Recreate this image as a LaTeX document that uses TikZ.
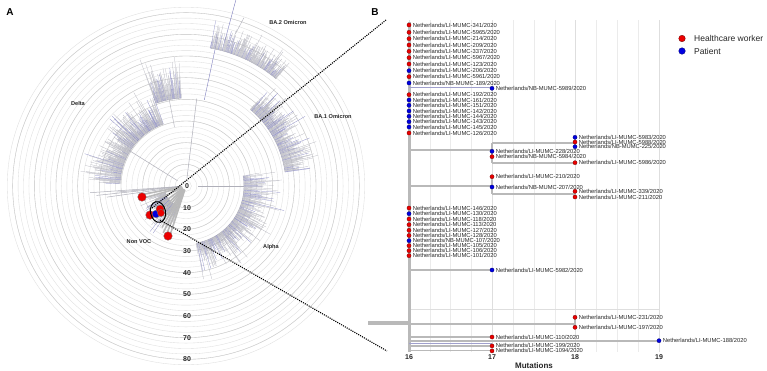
\documentclass[tikz,border=0pt]{standalone}
\usepackage{fontspec}
\setmainfont{Liberation Sans}
\definecolor{treegray}{RGB}{175,175,185}
\definecolor{treeblue}{RGB}{125,125,190}
\definecolor{ringc}{RGB}{222,222,222}
\definecolor{ringd}{RGB}{205,205,205}
\definecolor{brc}{RGB}{185,185,185}
\definecolor{brl}{RGB}{160,160,205}
\definecolor{gridc}{RGB}{235,235,235}
\definecolor{gridd}{RGB}{222,222,222}
\definecolor{hcw}{RGB}{235,0,0}
\definecolor{pat}{RGB}{0,0,225}
\tikzset{
  tipR/.style={circle, fill=hcw, draw=red!40!black, line width=0.25pt, inner sep=0pt, minimum size=4.2pt},
  tipB/.style={circle, fill=pat, draw=blue!40!black, line width=0.25pt, inner sep=0pt, minimum size=4.2pt},
  tiplab/.style={font=\fontsize{5.8}{6}\selectfont, anchor=west, inner sep=0.4pt, text=black!85},
  brline/.style={draw=brc, line width=1.8pt},
  dotA/.style={fill=hcw, draw=black!55, line width=0.3pt},
  dotAB/.style={fill=pat, draw=black!55, line width=0.3pt},
  ringlab/.style={font=\bfseries\fontsize{7}{8}\selectfont, inner sep=0.5pt, text=black!85},
  cladelab/.style={font=\bfseries\fontsize{5.6}{6}\selectfont, inner sep=0pt, text=black!85},
  panellab/.style={font=\bfseries\fontsize{10}{11}\selectfont, inner sep=0pt},
  ticklab/.style={font=\bfseries\fontsize{7}{8}\selectfont, inner sep=0pt, text=black!85},
  dotline/.style={line width=1.1pt, dash pattern=on 1.1pt off 1.1pt},
  legtext/.style={font=\fontsize{8.5}{9}\selectfont, anchor=west, inner sep=0pt, text=black!85}
}
\newcommand\treeclade[6]{%
  \draw[treegray, line width=0.4pt] (#1:#4) arc[start angle=#1, end angle=#2, radius=#4];
  \pgfmathsetmacro\stp{(#2-(#1))/#3}%
  \foreach \ii in {0,...,#3}{%
    \pgfmathsetmacro\ang{#1+\stp*\ii+0.4*\stp*(rnd-0.5)}%
    \pgfmathsetmacro\rr{#4+#5+(#6-#5)*rnd*(0.35+0.65*rnd)}%
    \pgfmathsetmacro\cl{rnd}%
    \ifdim\cl pt<0.22pt \def\tcol{treeblue}\else\def\tcol{treegray}\fi
    \draw[\tcol, line width=0.22pt] (\ang:#4) -- (\ang:\rr);
  }%
}
\newcommand\tipnode[5]{%
  \node[tip#4] (#1) at (#2,#3) {};
  \node[tiplab] (#1l) at ([xshift=1.1pt]#1.east) {Netherlands/#5/2020};
}
\begin{document}
\begin{tikzpicture}[x=1pt, y=-1pt]
\useasboundingbox (0,0) rectangle (767,370);
\fill[white] (0,0) rectangle (767,370);

% ---------------- Panel A ----------------
\pgfmathsetseed{7}
\begin{scope}[shift={(186,186)}, y=1pt]
  \foreach \k in {1,...,33} \draw[ringc, line width=0.35pt] (0,0) circle[radius=\k*5.4167];
  \foreach \k in {4,8,...,32} \draw[ringd, line width=0.4pt] (0,0) circle[radius=\k*5.4167];
  % long branches
  \draw[treegray, line width=0.5pt] (83:8) -- (83:88);
  \draw[treeblue, line width=0.4pt] (78:88) -- (78:152);
  \draw[treeblue, line width=0.4pt] (75:150) -- (75:195);
  \draw[treegray, line width=0.4pt] (72:160) -- (71:178);
  \draw[treegray, line width=0.5pt] (0:12) -- (0:58);
  \draw[treegray, line width=0.5pt] (148:10) -- (148:68);
  \draw[treegray, line width=0.4pt] (101:60) -- (101:88);
  \foreach \a/\r in {184/96, 186/90, 188/80, 185/70}
    \draw[treegray, line width=0.5pt] (\a:6) -- (\a:\r);
  % clades
  \treeclade{93}{110}{80}{88}{4}{50}
  \treeclade{110}{178}{230}{66}{4}{44}
  \treeclade{50}{80}{160}{140}{3}{32}
  \treeclade{8}{50}{190}{100}{4}{40}
  \treeclade{-80}{10}{240}{58}{4}{44}
  \treeclade{198}{252}{80}{22}{5}{42}
  % non VOC thick grey branches
  \foreach \a/\r in {252/50, 248/55, 244/52, 240/48, 236/44, 230/38, 224/32, 216/30, 205/34, 196/42, 191/47}
    \draw[brc, line width=1.6pt] (\a:4) -- (\a:\r);
  \draw[brc, line width=2pt] (236:4) -- (247:20);
\end{scope}

% dotted zoom lines
\coordinate (zu0) at (152,208);
\coordinate (zu1) at (386,20);
\coordinate (zl0) at (160,220);
\coordinate (zl1) at (387,351);
\draw[dotline] (zu0) -- (zu1);
\draw[dotline] (zl0) -- (zl1);

% highlighted samples
\draw[dotA] (142,197) circle[radius=4.3];
\draw[dotA] (150,215) circle[radius=4.3];
\draw[dotA] (168,236) circle[radius=4.3];
\draw[dotAB] (156,214) circle[radius=3.8];
\draw[dotA] (160,209) circle[radius=4];
\draw[dotA] (161,213) circle[radius=3.6];
\draw[line width=1pt, rotate around={12:(158,212)}] (158,212) ellipse[x radius=7.5, y radius=10.5];

% ring labels
\foreach \v in {0,10,...,80}
  \node[ringlab] (rl\v) at (187,{186+\v*2.1667}) {\v};

% clade labels
\node[cladelab] (cBA2) at (288,22) {BA.2 Omicron};
\node[cladelab] (cBA1) at (333,116) {BA.1 Omicron};
\node[cladelab] (cDel) at (78,103) {Delta};
\node[cladelab] (cNon) at (139,242) {Non VOC};
\node[cladelab] (cAlp) at (271,247) {Alpha};

\node[panellab] (pA) at (10,12) {A};
\node[panellab] (pB) at (375,12) {B};

% ---------------- Panel B ----------------
\foreach \k in {0,...,12}
  \draw[gridc, line width=0.5pt] ({409+\k*20.8333},20) -- ({409+\k*20.8333},352);
\foreach \k in {0,4,8,12}
  \draw[gridd, line width=0.8pt] ({409+\k*20.8333},20) -- ({409+\k*20.8333},352);
\draw[gridd, line width=0.6pt] (409,309) -- (659,309);

% branches
\draw[brc, line width=3pt] (409,22) -- (409,352);
\draw[brc, line width=4pt] (368,323) -- (409,323);
\draw[brl, line width=1.4pt] (409,87.3) -- (492,87.3);
\draw[brline] (409,150) -- (492,150);
\draw[brline] (492,143.3) -- (492,162.7);
\draw[brline] (492,143.3) -- (575,143.3);
\draw[brline] (575,137.3) -- (575,146.7);
\draw[brline] (492,162.7) -- (575,162.7);
\draw[brline] (409,186) -- (492,186);
\draw[brline] (492,176.7) -- (492,194);
\draw[brline] (492,194) -- (575,194);
\draw[brline] (575,191.3) -- (575,197);
\draw[brline] (409,270) -- (492,270);
\draw[brline] (409,324.3) -- (575,324.3);
\draw[brline] (575,317.3) -- (575,327.3);
\draw[brline] (409,337) -- (492,337);
\draw[brline] (409,340.7) -- (659,340.7);
\draw[brl, line width=0.8pt] (409,343.3) -- (492,343.3);
\draw[brline] (409,345.9) -- (492,345.9);
\draw[brline] (409,350.5) -- (492,350.5);

% tips
\tipnode{a1}{409}{25}{R}{LI-MUMC-341}
\tipnode{a2}{409}{32.3}{R}{LI-MUMC-5965}
\tipnode{a3}{409}{38.7}{R}{LI-MUMC-214}
\tipnode{a4}{409}{45}{R}{LI-MUMC-209}
\tipnode{a5}{409}{51.3}{R}{LI-MUMC-337}
\tipnode{a6}{409}{57.7}{R}{LI-MUMC-5967}
\tipnode{a7}{409}{64}{R}{LI-MUMC-123}
\tipnode{a8}{409}{70.7}{B}{LI-MUMC-206}
\tipnode{a9}{409}{76.7}{R}{LI-MUMC-5961}
\tipnode{a10}{409}{83}{B}{NB-MUMC-189}
\tipnode{b1}{492}{88.3}{B}{NB-MUMC-5989}
\tipnode{c1}{409}{94.7}{R}{LI-MUMC-192}
\tipnode{c2}{409}{100}{B}{LI-MUMC-161}
\tipnode{c3}{409}{105.3}{B}{LI-MUMC-151}
\tipnode{c4}{409}{111}{B}{LI-MUMC-142}
\tipnode{c5}{409}{116.3}{B}{LI-MUMC-144}
\tipnode{c6}{409}{121.7}{B}{LI-MUMC-143}
\tipnode{c7}{409}{127}{B}{LI-MUMC-145}
\tipnode{c8}{409}{133}{R}{LI-MUMC-126}
\tipnode{d1}{575}{137.3}{B}{LI-MUMC-5983}
\tipnode{d2}{575}{142}{R}{LI-MUMC-5988}
\tipnode{d3}{575}{146.7}{B}{NB-MUMC-225}
\tipnode{d4}{492}{151.3}{B}{LI-MUMC-228}
\tipnode{d5}{492}{156.7}{R}{NB-MUMC-5984}
\tipnode{d6}{575}{162.7}{R}{LI-MUMC-5986}
\tipnode{e1}{492}{176.7}{R}{LI-MUMC-210}
\tipnode{e2}{492}{187}{B}{NB-MUMC-207}
\tipnode{e3}{575}{191.3}{R}{LI-MUMC-339}
\tipnode{e4}{575}{197}{R}{LI-MUMC-211}
\tipnode{f1}{409}{208}{R}{LI-MUMC-146}
\tipnode{f2}{409}{213.7}{B}{LI-MUMC-130}
\tipnode{f3}{409}{219}{R}{LI-MUMC-118}
\tipnode{f4}{409}{224.7}{R}{LI-MUMC-113}
\tipnode{f5}{409}{230.3}{R}{LI-MUMC-127}
\tipnode{f6}{409}{235.5}{R}{LI-MUMC-128}
\tipnode{f7}{409}{240.7}{B}{NB-MUMC-107}
\tipnode{f8}{409}{245.7}{R}{LI-MUMC-105}
\tipnode{f9}{409}{250.7}{R}{LI-MUMC-106}
\tipnode{f10}{409}{255.7}{R}{LI-MUMC-101}
\tipnode{g1}{492}{270}{B}{LI-MUMC-5982}
\tipnode{h1}{575}{317.3}{R}{LI-MUMC-231}
\tipnode{h2}{575}{327.3}{R}{LI-MUMC-197}
\tipnode{i1}{492}{337}{R}{LI-MUMC-110}
\tipnode{i2}{659}{340.7}{B}{LI-MUMC-188}
\tipnode{i3}{492}{345.9}{R}{LI-MUMC-199}
\tipnode{i4}{492}{350.9}{R}{LI-MUMC-1094}

% axis
\node[ticklab] (x16) at (409,357.5) {16};
\node[ticklab] (x17) at (492,357.5) {17};
\node[ticklab] (x18) at (575,357.5) {18};
\node[ticklab] (x19) at (659,357.5) {19};
\node[font=\bfseries\fontsize{8}{9}\selectfont, inner sep=0pt, text=black!85] (xlab) at (534,366) {Mutations};

% legend
\node[circle, fill=hcw, draw=red!40!black, line width=0.3pt, inner sep=0pt, minimum size=6.6pt] (lg1) at (682,38.5) {};
\node[circle, fill=pat, draw=blue!40!black, line width=0.3pt, inner sep=0pt, minimum size=6.6pt] (lg2) at (682,51) {};
\node[legtext] (lt1) at (694,38.5) {Healthcare worker};
\node[legtext] (lt2) at (694,51) {Patient};
\end{tikzpicture}
\end{document}
